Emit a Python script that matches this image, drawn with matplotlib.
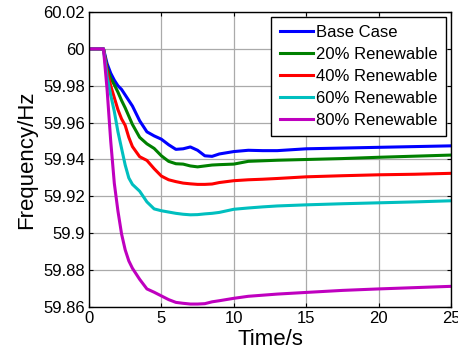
import matplotlib
matplotlib.use("Agg")
import matplotlib.pyplot as plt

# time samples (s), denser around the disturbance
time_s = [0, 1, 1.25, 1.5, 1.75, 2, 2.25, 2.5, 2.75, 3, 3.5, 4, 4.5, 5, 5.5,
          6, 6.5, 7, 7.5, 8, 8.5, 9, 10, 11, 12, 13, 15, 17.5, 20, 22.5, 25]

# system frequency (Hz) for each renewable penetration level
base_case = [60, 60, 59.992, 59.9868, 59.983, 59.980, 59.978, 59.975, 59.972,
             59.969, 59.961, 59.955, 59.9528, 59.951, 59.948, 59.9455, 59.9458,
             59.9468, 59.945, 59.942, 59.9417, 59.943, 59.9443, 59.945, 59.9448,
             59.9448, 59.9458, 59.9462, 59.9466, 59.947, 59.9474]
renew_20 = [60, 60, 59.9895, 59.984, 59.9805, 59.9765, 59.972, 59.968, 59.9635,
            59.959, 59.952, 59.9485, 59.946, 59.942, 59.939, 59.9377, 59.9375,
            59.9365, 59.936, 59.9365, 59.937, 59.9372, 59.9375, 59.939, 59.9393,
            59.9396, 59.940, 59.9405, 59.9412, 59.9418, 59.9424]
renew_40 = [60, 60, 59.988, 59.980, 59.9735, 59.967, 59.962, 59.9585, 59.952,
            59.947, 59.9415, 59.9395, 59.935, 59.931, 59.929, 59.928, 59.9272,
            59.9268, 59.9265, 59.9265, 59.9267, 59.9275, 59.9285, 59.929, 59.9293,
            59.9297, 59.9306, 59.9312, 59.9317, 59.932, 59.9325]
renew_60 = [60, 60, 59.985, 59.975, 59.966, 59.955, 59.946, 59.937, 59.930,
            59.9265, 59.9228, 59.917, 59.9132, 59.9122, 59.9115, 59.9108, 59.9103,
            59.910, 59.9101, 59.9105, 59.9108, 59.9113, 59.913, 59.9137, 59.9143,
            59.9148, 59.9154, 59.916, 59.9165, 59.917, 59.9176]
renew_80 = [60, 60, 59.978, 59.950, 59.927, 59.912, 59.8996, 59.891, 59.885,
            59.881, 59.875, 59.8698, 59.868, 59.866, 59.864, 59.8625, 59.862,
            59.8616, 59.8616, 59.8618, 59.8628, 59.8634, 59.8647, 59.8658, 59.8664,
            59.867, 59.8679, 59.869, 59.8698, 59.8705, 59.8712]

series = [
    ("Base Case", base_case, "#0000ff"),
    ("20% Renewable", renew_20, "#008000"),
    ("40% Renewable", renew_40, "#ff0000"),
    ("60% Renewable", renew_60, "#00bfbf"),
    ("80% Renewable", renew_80, "#bf00bf"),
]

y_ticks = [59.86, 59.88, 59.9, 59.92, 59.94, 59.96, 59.98, 60, 60.02]
y_tick_labels = ["59.86", "59.88", "59.9", "59.92", "59.94", "59.96", "59.98", "60", "60.02"]
x_ticks = [0, 5, 10, 15, 20, 25]

plt.rcParams["font.family"] = ["Liberation Sans", "DejaVu Sans"]

fig = plt.figure(figsize=(4.58, 3.54), dpi=100)
ax = fig.add_axes([0.1943, 0.1328, 0.7904, 0.8333])

for name, values, color in series:
    ax.plot(time_s, values, color=color, lw=2.2, label=name)

ax.set_xlim(0, 25)
ax.set_ylim(59.86, 60.02)
ax.set_xticks(x_ticks)
ax.set_yticks(y_ticks)
ax.set_yticklabels(y_tick_labels)
ax.tick_params(direction="in", length=3, width=0.8, top=True, right=True,
               labelsize=12, pad=3)
ax.grid(True, color="#aaaaaa", lw=0.9)
for sp in ax.spines.values():
    sp.set_linewidth(1.0)
    sp.set_color("black")

ax.set_xlabel("Time/s", fontsize=16, labelpad=2)
ax.set_ylabel("Frequency/Hz", fontsize=16, labelpad=4)

leg = ax.legend(loc="upper right", fontsize=12, fancybox=False, framealpha=1,
                edgecolor="black", handlelength=2.0, handletextpad=0.2,
                labelspacing=0.42, borderpad=0.5, borderaxespad=0.28)
leg.get_frame().set_linewidth(1.0)

fig.savefig("out.png", dpi=100)
